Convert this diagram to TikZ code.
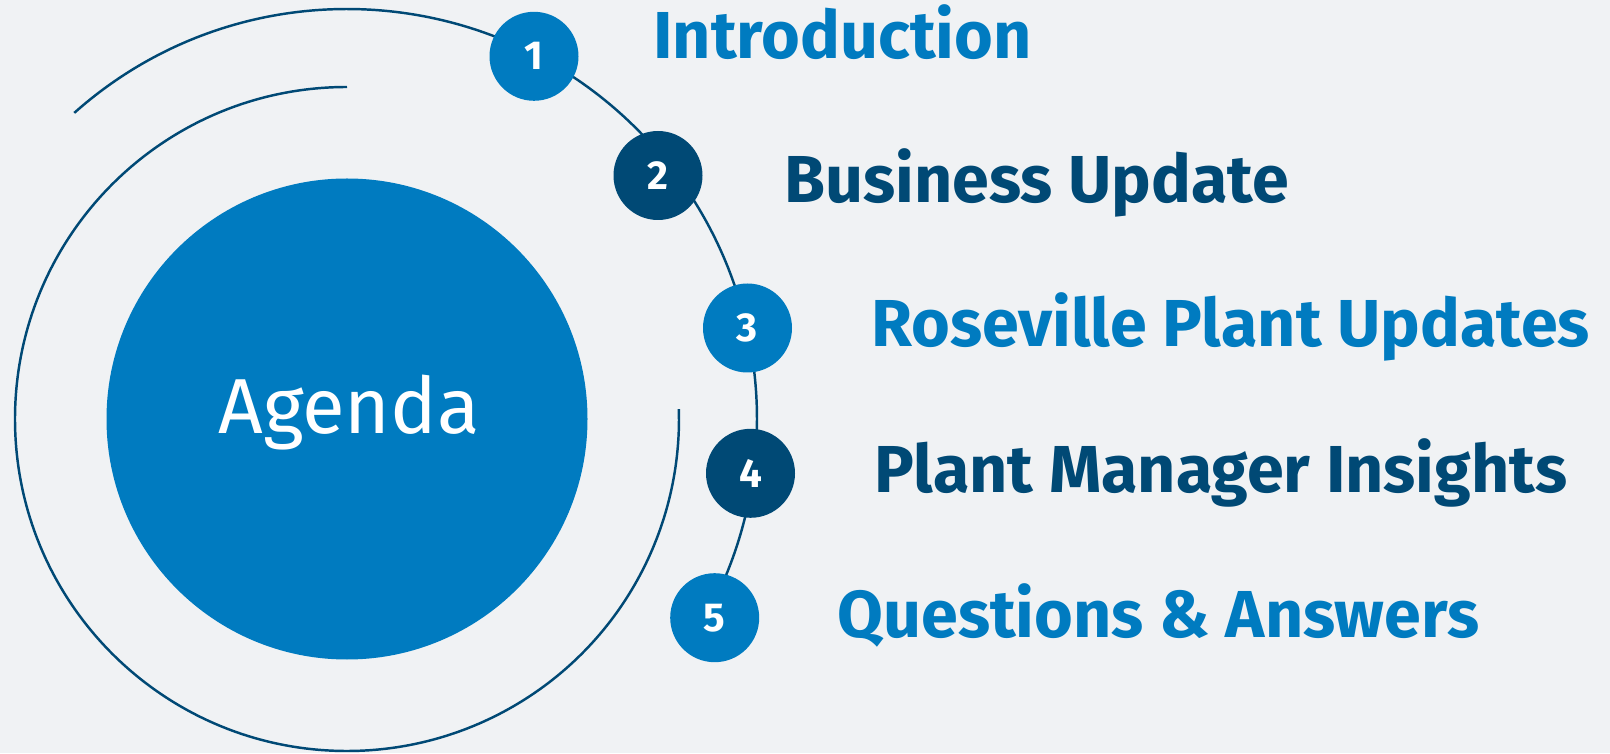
\documentclass[tikz,border=0pt]{standalone}
\usepackage{fontspec}
\setmainfont{Fira Sans}
\tikzset{
  numdot/.style={shape=circle,fill=#1,minimum size=0.89cm,inner sep=0pt,text=white,font=\bfseries\fontsize{11.5}{13}\selectfont},
  itemtext/.style={anchor=base west,inner sep=0pt,text=#1,font=\bfseries\fontsize{18.9}{23}\selectfont},
  ringline/.style={draw=agenda_navy,line width=0.7pt}
}
\begin{document}
\begin{tikzpicture}
    \definecolor{agenda_bg}{RGB}{240,242,244}
    \definecolor{agenda_blue}{RGB}{0,123,192}
    \definecolor{agenda_navy}{RGB}{0,73,117}
    \fill[agenda_bg] (0,0) rectangle (16.10,7.53);
    \useasboundingbox (0,0) rectangle (16.10,7.53);
    \coordinate (hub) at (3.47,3.34);
    \draw[ringline] ([shift={(hub)}]90:3.32) arc[start angle=90,end angle=361.7,radius=3.32];
    \draw[ringline] ([shift={(hub)}]131.7:4.10) arc[start angle=131.7,end angle=-28.4,radius=4.10];
    \node[shape=circle,fill=agenda_blue,minimum size=4.81cm,inner sep=0pt] (agenda) at (hub) {};
    \node[anchor=base,inner sep=0pt,text=white,font=\fontsize{22.2}{27}\selectfont] (agendalabel) at (3.49,3.197) {Agenda};
    \node[numdot=agenda_blue] (n1) at (5.34,6.967) {1};
    \node[numdot=agenda_navy] (n2) at (6.58,5.775) {2};
    \node[numdot=agenda_blue] (n3) at (7.475,4.25) {3};
    \node[numdot=agenda_navy] (n4) at (7.505,2.797) {4};
    \node[numdot=agenda_blue] (n5) at (7.147,1.353) {5};
    \node[itemtext=agenda_blue] (t1) at (6.527,6.947) {Introduction};
    \node[itemtext=agenda_navy] (t2) at (7.836,5.507) {Business Update};
    \node[itemtext=agenda_blue] (t3) at (8.706,4.063) {Roseville Plant Updates};
    \node[itemtext=agenda_navy] (t4) at (8.738,2.607) {Plant Manager Insights};
    \node[itemtext=agenda_blue] (t5) at (8.37,1.153) {Questions \& Answers};
\end{tikzpicture}
\end{document}
